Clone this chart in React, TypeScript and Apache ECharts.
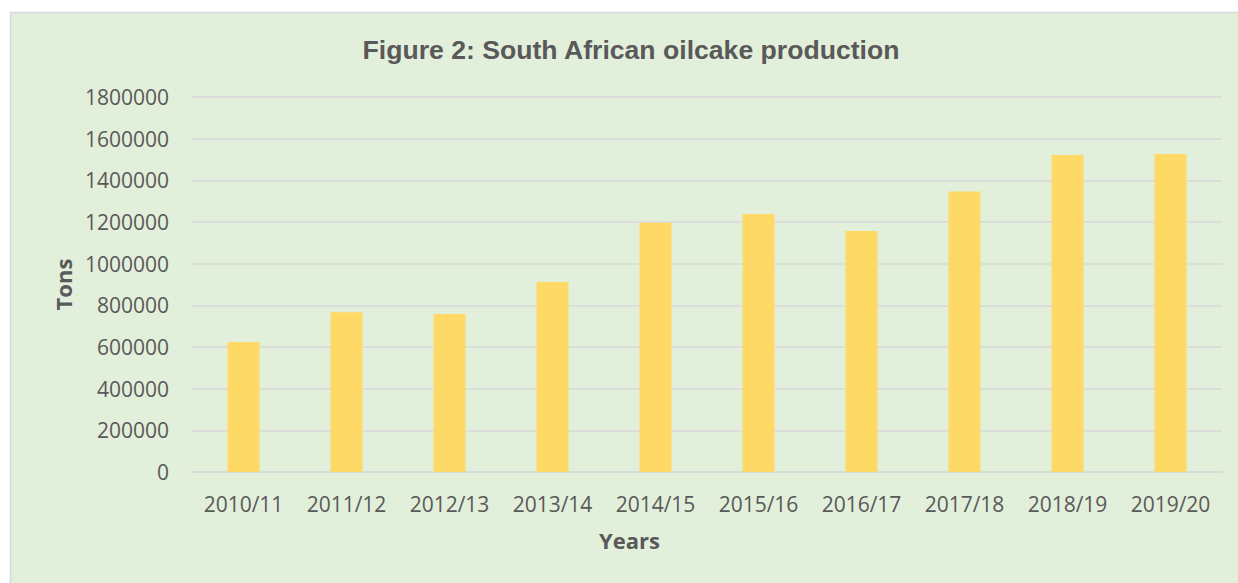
import React, { useEffect, useRef } from "react";
import * as echarts from "echarts";

const categories = ["2010/11", "2011/12", "2012/13", "2013/14", "2014/15", "2015/16", "2016/17", "2017/18", "2018/19", "2019/20"];
const production = [624000, 767000, 758000, 912000, 1196000, 1238000, 1157000, 1346000, 1522000, 1526000];
const titleText = "Figure 2: South African oilcake production";
const yAxisName = "Tons";
const xAxisName = "Years";

export default function App() {
  const ref = useRef<HTMLDivElement>(null);
  useEffect(() => {
    if (!ref.current) return;
    const chart = echarts.init(ref.current, undefined, { renderer: "svg" });
    chart.setOption({
      animation: false,
      backgroundColor: "#ffffff",
      graphic: [
        {
          type: "rect",
          z: -10,
          silent: true,
          shape: { x: 10.5, y: 12.5, width: 1500, height: 900 },
          style: { fill: "#E2EFDA", stroke: "#D9D9D9", lineWidth: 1.5 },
        },
        {
          type: "text",
          x: 631,
          y: 50,
          style: {
            text: titleText,
            fill: "#595959",
            font: "bold 26.6px 'Liberation Sans', Arial, sans-serif",
            textAlign: "center",
            textVerticalAlign: "middle",
          },
        },
        {
          type: "text",
          x: 629.5,
          y: 540,
          style: {
            text: xAxisName,
            fill: "#595959",
            font: "bold 22px 'Open Sans', sans-serif",
            textAlign: "center",
            textVerticalAlign: "middle",
          },
        },
      ],
      grid: { left: 192, right: 16, top: 97, bottom: 111, containLabel: false },
      xAxis: {
        type: "category",
        data: categories,
        axisLine: { show: true, lineStyle: { color: "#D9D9D9", width: 1.5 } },
        axisTick: { show: false },
        axisLabel: { interval: 0, color: "#595959", fontFamily: "'Open Sans', sans-serif", fontSize: 21, margin: 21 },
      },
      yAxis: {
        type: "value",
        min: 0,
        max: 1800000,
        interval: 200000,
        name: yAxisName,
        nameLocation: "middle",
        nameRotate: 90,
        nameGap: 118,
        nameTextStyle: { color: "#595959", fontFamily: "'Open Sans', sans-serif", fontSize: 22, fontWeight: "bold" },
        axisLine: { show: false },
        axisTick: { show: false },
        axisLabel: {
          color: "#595959",
          fontFamily: "'Open Sans', sans-serif",
          fontSize: 21,
          margin: 23,
          formatter: (v: number) => String(v),
        },
        splitLine: { show: true, lineStyle: { color: "#D9D9D9", width: 1.5 } },
      },
      series: [
        {
          type: "bar",
          data: production,
          barWidth: 32,
          itemStyle: { color: "#FFD966" },
        },
      ],
    });
    return () => chart.dispose();
  }, []);
  return (
    <div
      ref={ref}
      style={{ position: "fixed", left: 0, top: 0, width: 1238, height: 583 }}
    />
  );
}
